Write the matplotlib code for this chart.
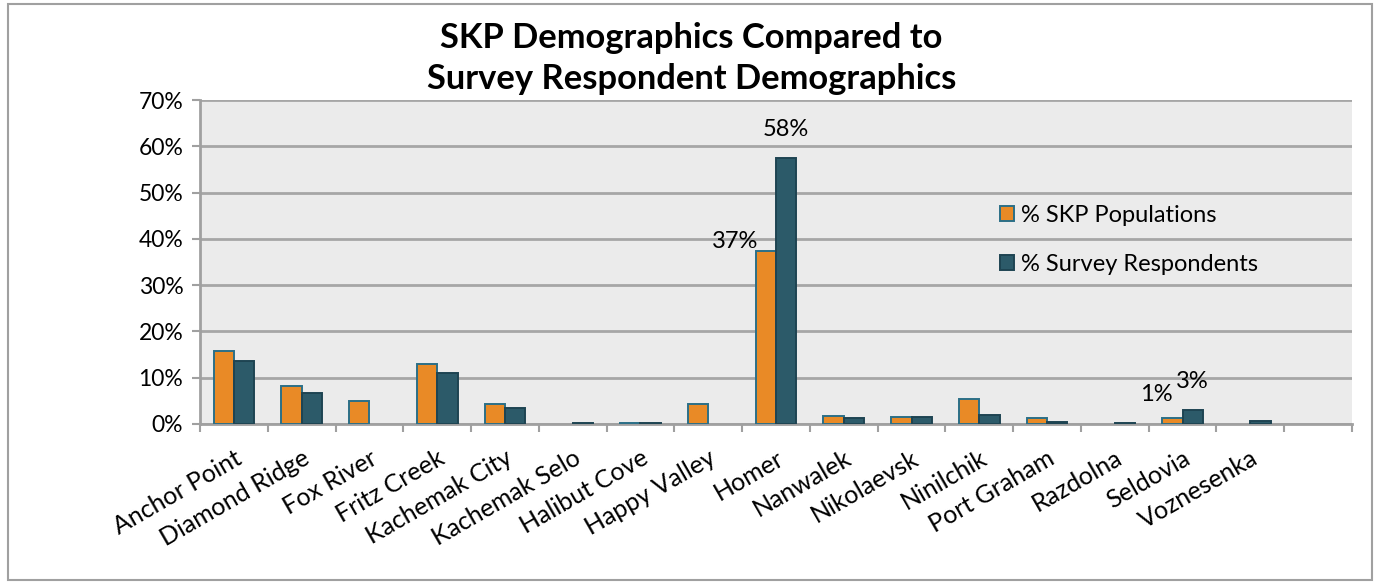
import numpy as np
import matplotlib
matplotlib.use("Agg")
import matplotlib.pyplot as plt
import matplotlib.transforms as mtransforms
from matplotlib.patches import Rectangle, Patch
from matplotlib.ticker import FuncFormatter

places = ["Anchor Point", "Diamond Ridge", "Fox River", "Fritz Creek", "Kachemak City",
          "Kachemak Selo", "Halibut Cove", "Happy Valley", "Homer", "Nanwalek",
          "Nikolaevsk", "Ninilchik", "Port Graham", "Razdolna", "Seldovia", "Voznesenka"]
skp_pop = [15.7, 8.3, 5.0, 12.9, 4.3, 0.0, 0.2, 4.3, 37.4, 1.7, 1.5, 5.4, 1.3, 0.0, 1.2, 0.0]
survey = [13.6, 6.6, 0.0, 11.0, 3.4, 0.3, 0.2, 0.0, 57.5, 1.3, 1.5, 1.9, 0.5, 0.2, 3.1, 0.6]

plt.rcParams['font.family'] = ['Lato', 'DejaVu Sans']

fig = plt.figure(figsize=(13.77, 5.84), dpi=100)
fig.patches.append(Rectangle((8 / 1377, 4 / 584), 1364 / 1377, 576 / 584, transform=fig.transFigure,
                             fill=False, edgecolor="#A0A0A0", linewidth=1.5))
ax = fig.add_axes([200 / 1377, 1 - 424 / 584, 1152 / 1377, 324 / 584])
ax.set_facecolor("#EBEBEB")

x = np.arange(len(places))
w = 0.3
b1 = ax.bar(x - w / 2, skp_pop, w, color="#E98A26", edgecolor="#2B6F87", linewidth=1.4, zorder=3)
b2 = ax.bar(x + w / 2, survey, w, color="#2C5A69", edgecolor="#1E4452", linewidth=1.4, zorder=3)
# empty values: no outline along the baseline
for bars in (b1, b2):
    for r in bars:
        if r.get_height() == 0:
            r.set_linewidth(0)

ax.set_xlim(-0.5, len(places) + 0.5)
ax.set_ylim(0, 70)
ax.set_yticks(range(0, 71, 10))
ax.yaxis.set_major_formatter(FuncFormatter(lambda v, p: f"{v:.0f}%"))
ax.grid(axis="y", color="#A6A6A6", linewidth=2, zorder=0)
ax.set_axisbelow(True)

ax.set_xticks(x)
ax.set_xticklabels(places, rotation=30, ha="right", rotation_mode="anchor", fontsize=18)
shift = mtransforms.ScaledTranslation(4 / 100, 0, fig.dpi_scale_trans)
for t in ax.get_xticklabels():
    t.set_transform(t.get_transform() + shift)
ax.set_xticks(np.arange(-0.5, len(places) + 1, 1), minor=True)
ax.tick_params(axis="x", which="major", length=0, pad=16)
ax.tick_params(axis="x", which="minor", length=6, width=1.5, color="#A0A0A0")
ax.tick_params(axis="y", length=6, width=1.5, color="#A0A0A0", labelsize=16.5, pad=6)

for s in ["top", "right"]:
    ax.spines[s].set_visible(False)
for s in ["left", "bottom"]:
    ax.spines[s].set_color("#A0A0A0")
    ax.spines[s].set_linewidth(2)

# labels as on the original chart
def lab(xv, yv, txt, dx, dy):
    ax.annotate(txt, (xv, yv), xytext=(dx, dy), textcoords="offset pixels",
                ha="center", va="center", fontsize=17, zorder=5)

lab(x[8] - w / 2, skp_pop[8], "37%", -31, 9)
lab(x[8] + w / 2, survey[8], "58%", 0, 28)
lab(x[14] - w / 2, skp_pop[14], "1%", -16, 24)
lab(x[14] + w / 2, survey[14], "3%", 0, 28)

handles = [Patch(facecolor="#E98A26", edgecolor="#2B6F87", linewidth=1.4),
           Patch(facecolor="#2C5A69", edgecolor="#1E4452", linewidth=1.4)]
ax.legend(handles, ["% SKP Populations", "% Survey Respondents"], loc="center left",
          bbox_to_anchor=(0.676, 0.568), frameon=False, fontsize=17, handlelength=0.6,
          handleheight=0.6, handletextpad=0.3, labelspacing=1.2)

fig.text(0.502, 0.9, "SKP Demographics Compared to\nSurvey Respondent Demographics",
         ha="center", va="center", fontsize=24.8, fontweight="bold", linespacing=1.35)

fig.savefig("out.png", dpi=100)
